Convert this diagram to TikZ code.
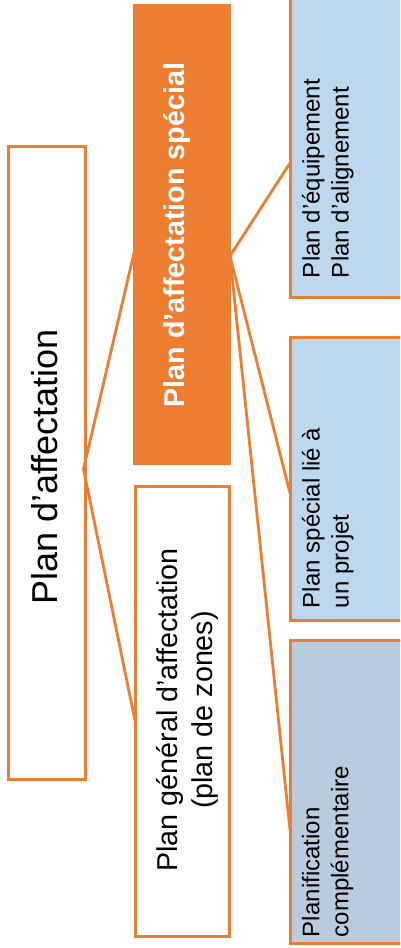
\documentclass[tikz,border=0pt]{standalone}
\usepackage{fontspec}
\setmainfont{Liberation Sans}
\usetikzlibrary{calc}
\definecolor{org}{RGB}{237,125,49}
\definecolor{lblue}{RGB}{189,215,238}
\definecolor{gblue}{RGB}{184,204,222}
\begin{document}
\begin{tikzpicture}[x=1pt,y=-1pt,
  obox/.style={draw=org,line width=3pt,inner sep=0pt,outer sep=0pt},
  conn/.style={draw=org,line width=2.8pt,line cap=round},
  txt/.style={inner sep=0pt,outer sep=0pt,rotate=90}]
\useasboundingbox (0,0) rectangle (400,948);
\clip (0,0) rectangle (400,948);
% boxes
\node[obox,fill=white,minimum width=77pt,minimum height=633pt] (L) at (46.5,462.5) {};
\node[obox,fill=org,minimum width=95pt,minimum height=458pt] (O) at (181.5,234) {};
\node[obox,fill=white,minimum width=94pt,minimum height=450pt] (G) at (182.5,711.5) {};
\node[obox,fill=lblue,minimum width=112pt,minimum height=300pt] (B1) at (346,147) {};
\node[obox,fill=lblue,minimum width=112pt,minimum height=283pt] (B2) at (346,478.5) {};
\node[obox,fill=gblue,minimum width=112pt,minimum height=303pt] (B3) at (346,791.5) {};
% texts
\node[txt,anchor=base,font=\fontsize{36}{43}\selectfont] (Lt) at (57,467) {Plan d’affectation};
\node[txt,anchor=base,text=white,font=\bfseries\fontsize{28.7}{34}\selectfont] (Ot) at (184,235) {Plan d’affectation spécial};
\node[txt,anchor=center,align=center,font=\fontsize{28.7}{35}\selectfont] (Gt) at (187,710) {Plan général d’affectation\\(plan de zones)};
\node[txt,anchor=north west,align=left,font=\fontsize{24}{29}\selectfont] (B1t) at (302,278) {Plan d’équipement\\Plan d’alignement};
\node[txt,anchor=north west,align=left,font=\fontsize{24}{29}\selectfont] (B2t) at (302,608) {Plan spécial lié à\\un projet};
\node[txt,anchor=north west,align=left,font=\fontsize{24}{29}\selectfont] (B3t) at (302,937) {Planification\\complémentaire};
% connector points
\coordinate (Lr) at ($(L.east)+(-1.5,6.5)$);
\coordinate (Ol) at ($(O.west)+(0,19)$);
\coordinate (Gl) at ($(G.west)+(0,11.5)$);
\coordinate (Or) at ($(O.east)+(1,22)$);
\coordinate (B1l) at ($(B1.west)+(0,16)$);
\coordinate (B2l) at ($(B2.west)+(0,14.5)$);
\coordinate (B3l) at ($(B3.west)+(0,38.5)$);
\draw[conn] (Ol) -- (Lr) -- (Gl);
\draw[conn] (B1l) -- (Or) -- (B2l);
\draw[conn] (Or) -- (B3l);
\end{tikzpicture}
\end{document}
